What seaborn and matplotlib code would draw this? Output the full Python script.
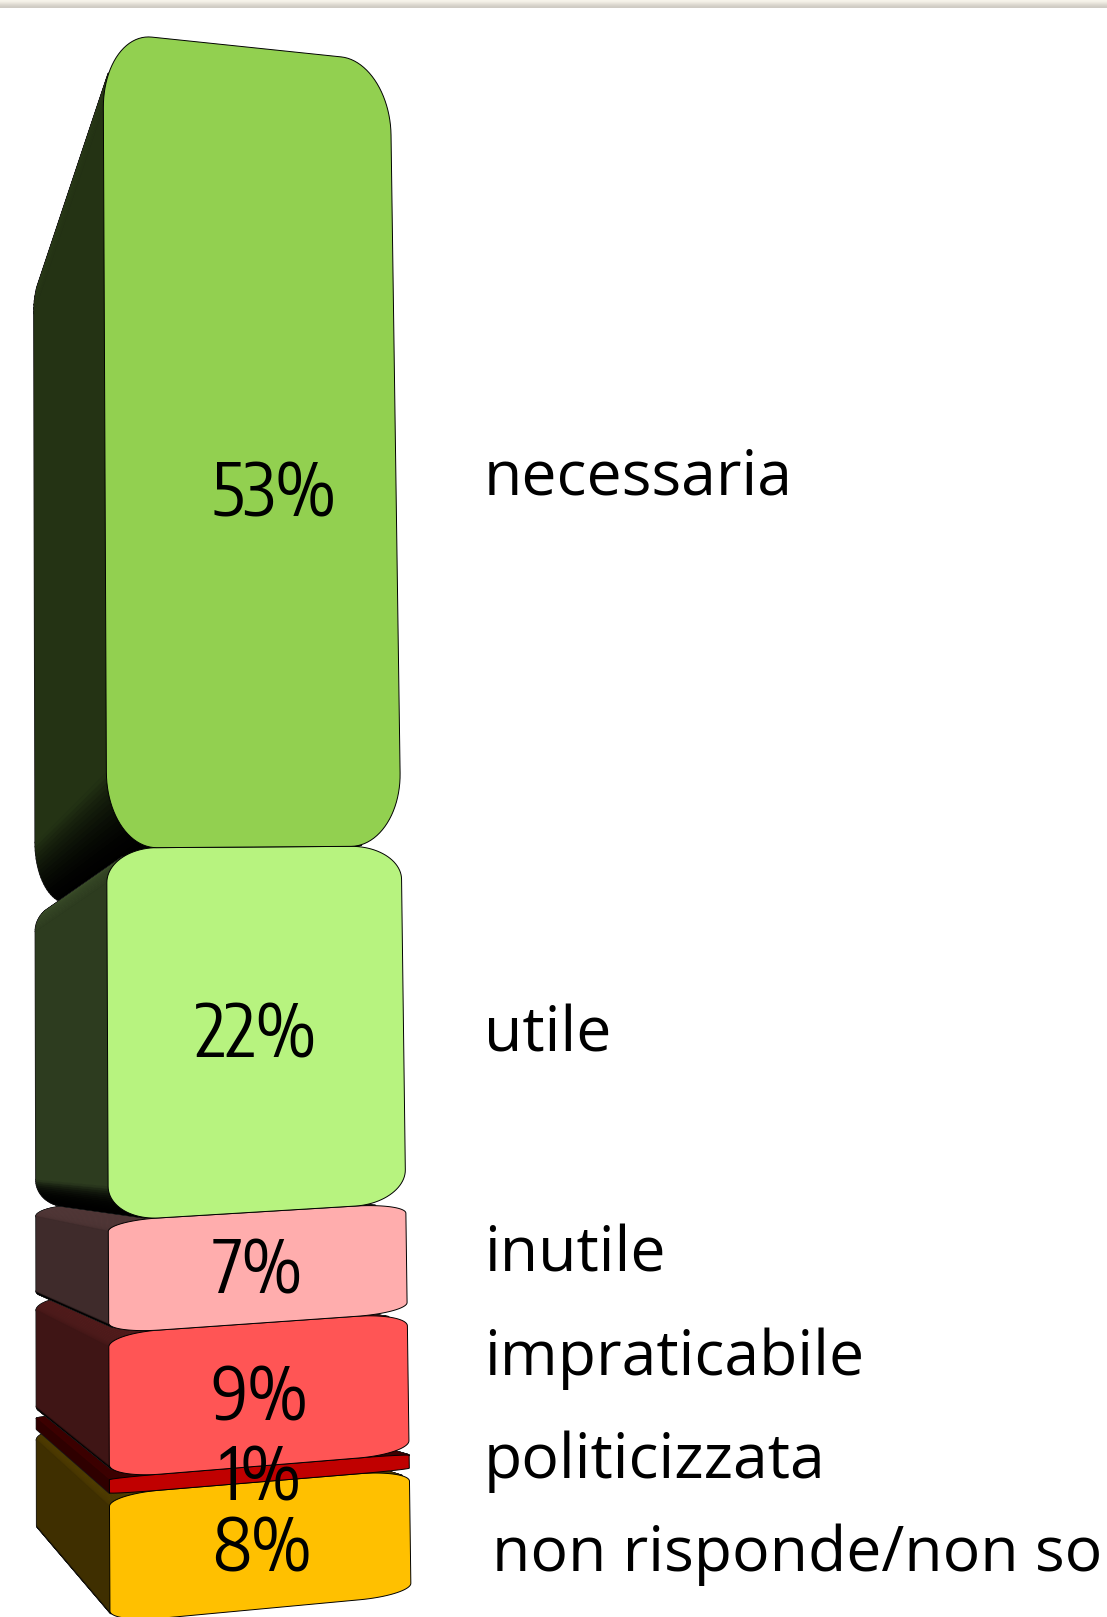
import numpy as np
import matplotlib.pyplot as plt
from matplotlib.colors import to_rgb
from matplotlib.collections import PolyCollection
from matplotlib.patches import Polygon
import seaborn as sns

categories = ["necessaria", "utile", "inutile", "impraticabile", "politicizzata", "non risponde/non so"]
values = [53, 22, 7, 9, 1, 8]
pct_labels = ["53%", "22%", "7%", "9%", "1%", "8%"]
colors = ["#92D050", "#B7F37F", "#FFADAD", "#FF5555", "#C00000", "#FFC000"]

# the slanted "3D" scale: cumulative percent -> pixel row/column
scale_v = [0, 25, 47, 100]
front_left_y = [1623, 1221, 848, 32]
front_right_y = [1595, 1203, 846, 62]
back_left_y = [1535, 1208, 903, 253]

sns.set_theme(style="white")
plt.rcParams["font.family"] = ["Open Sans", "Liberation Sans", "DejaVu Sans"]

fig = plt.figure(figsize=(11.07, 16.17), dpi=100)
ax = fig.add_axes([0, 0, 1, 1])

# stacked bar, bottom segment drawn first
tops = 100 - np.cumsum(values) + np.array(values)
for i in range(len(values) - 1, -1, -1):
    sns.barplot(x=["stack"], y=[values[i]], bottom=tops[i] - values[i], color=colors[i],
                saturation=1, width=1, ax=ax)
ax.set_ylim(0, 100)
ax.set_axis_off()

page = fig.add_axes([0, 0, 1, 1])
page.set_xlim(0, 1107)
page.set_ylim(1617, 0)
page.set_axis_off()
page.patch.set_alpha(0)


def front(u, v):
    yl = np.interp(v, scale_v, front_left_y)
    yr = np.interp(v, scale_v, front_right_y)
    xl = 110 - 7 * v / 100
    xr = 411 - 21 * v / 100
    return xl + u * (xr - xl), yl + u * (yr - yl)


def back(u, v):
    yl = np.interp(v, scale_v, back_left_y)
    yr = np.interp(v, scale_v, front_right_y) - np.interp(v, scale_v, front_left_y)
    return 37 - 3 * v / 100 + u * 190, yl + u * yr * 0.63


def outline(bottom, top):
    # rounded rectangle in bar units, clockwise on screen from the top left
    rx, ry = 0.17, 0.093 * (top - bottom)
    t = np.linspace(0, np.pi / 2, 24)
    us, vs = [], []
    for cx, cy, sx, sy, tt in [(rx, top - ry, -1, 1, t), (1 - rx, top - ry, 1, 1, t[::-1]),
                               (1 - rx, bottom + ry, 1, -1, t), (rx, bottom + ry, -1, -1, t[::-1])]:
        us.extend(cx + sx * rx * np.cos(tt))
        vs.extend(cy + sy * ry * np.sin(tt))
    return np.array(us), np.array(vs)


def draw_side(patch, color, z):
    bottom, top = patch.get_y(), patch.get_y() + patch.get_height()
    us, vs = outline(bottom, top)
    fx, fy = front(us, vs)
    bx, by = back(us, vs)
    base = np.array(to_rgb(color))
    quads, shades = [], []
    n = len(us)
    for i in range(n):
        j = (i + 1) % n
        q = np.array([[fx[i], fy[i]], [fx[j], fy[j]], [bx[j], by[j]], [bx[i], by[i]]])
        x, y = q[:, 0], q[:, 1]
        area = np.sum(x * np.roll(y, -1) - np.roll(x, -1) * y)
        if area >= 0:
            continue
        dx, dy = fx[j] - fx[i], fy[j] - fy[i]
        ny = -dx / max(np.hypot(dx, dy), 1e-6)
        k = 0.25 * (1 - ny) ** 2.5 if ny > 0 else 0.25 + 0.07 * -ny
        quads.append(q)
        shades.append(base * k)
    page.add_collection(PolyCollection(quads, facecolors="k", edgecolors="k", linewidths=1.5, zorder=z))
    page.add_collection(PolyCollection(quads, facecolors=shades, edgecolors=shades, linewidths=0.4, zorder=z + 0.1))


def draw_front(patch, color, z):
    bottom, top = patch.get_y(), patch.get_y() + patch.get_height()
    patch.set_visible(False)
    us, vs = outline(bottom, top)
    fx, fy = front(us, vs)
    page.add_patch(Polygon(np.column_stack([fx, fy]), closed=True, facecolor=color, edgecolor="black",
                           linewidth=0.7, zorder=z))


# ax.patches run bottom segment to top segment
bars = list(ax.patches)
seg_colors = colors[::-1]
# the tall top side goes furthest back, the others stack upward over each other
side_order = [5, 0, 1, 2, 3, 4]
for z, k in enumerate(side_order):
    draw_side(bars[k], seg_colors[k], z + 1)
for z, (patch, c) in enumerate(zip(bars, seg_colors)):
    draw_front(patch, c, z + 10)

# grey strip along the top of the slide
strip = ["#F6F3EA", "#F3F0E7", "#EDE9E0", "#E6E2D9", "#DEDAD2", "#D8D4CC", "#D2CEC6", "#CFCBC4"]
for row, c in enumerate(strip):
    page.axhspan(row, row + 1, color=c, lw=0, zorder=20)

# percent labels sit in the middle of each segment
pct_dx = [24, 0, 0, 1, 1, 2]
pct_dy = [48, 7, 5, 5, 5, 5]
for i, lab in enumerate(pct_labels):
    mid = tops[i] - values[i] / 2
    x, y = front(0.5, mid)
    page.text(x + pct_dx[i], y + pct_dy[i], lab, fontsize=52, ha="center", va="center", color="black", zorder=30,
              family=["Encode Sans Condensed", "Liberation Sans", "DejaVu Sans"])

cat_x = [484, 484, 484, 484, 484, 492]
cat_y = [494, 1051, 1271, 1375, 1478, 1571]
for name, x, y in zip(categories, cat_x, cat_y):
    page.text(x, y, name, fontsize=45, ha="left", va="baseline", color="black", zorder=30)

fig.savefig("out.png", dpi=100)
